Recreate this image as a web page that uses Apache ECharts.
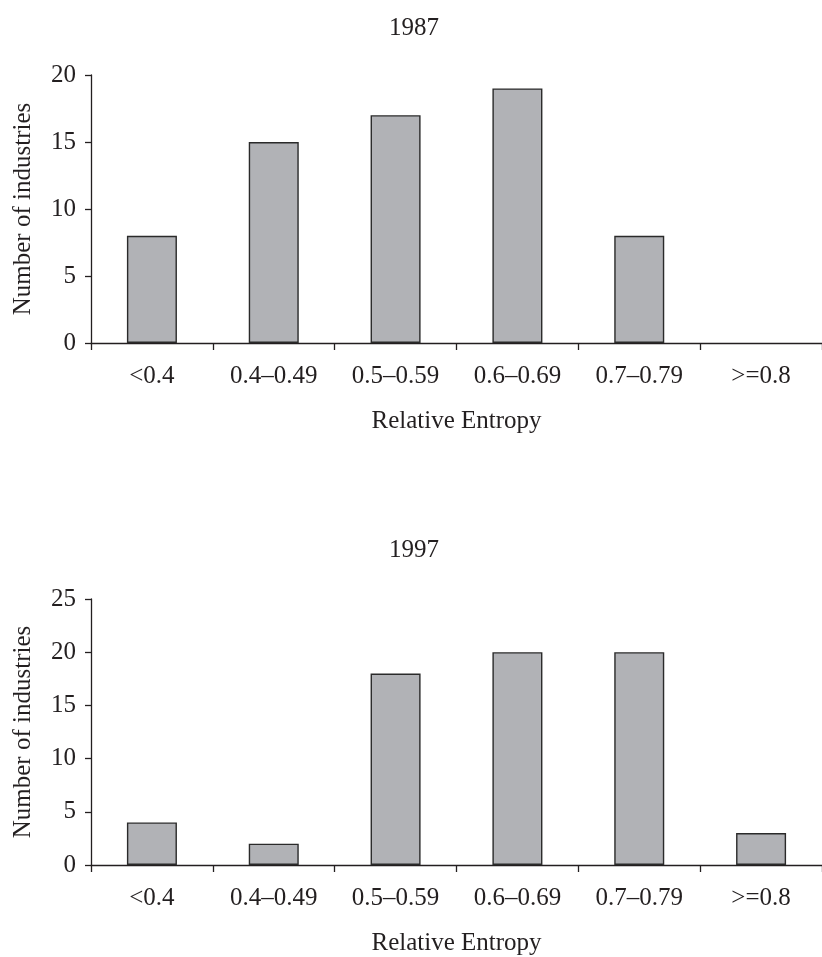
<!DOCTYPE html>
<html>
<head>
<meta charset="utf-8">
<script src="https://cdn.jsdelivr.net/npm/echarts@6/dist/echarts.min.js"></script>
<style>
html,body{margin:0;padding:0;background:#fff;}
#c{width:822px;height:957px;}
</style>
</head>
<body>
<div id="c"></div>
<script>
const categories = ['<0.4', '0.4\u20130.49', '0.5\u20130.59', '0.6\u20130.69', '0.7\u20130.79', '>=0.8'];
const values1987 = [8, 15, 17, 19, 8, 0];
const values1997 = [4, 2, 18, 20, 20, 3];
const yTicks1987 = {min: 0, max: 20, interval: 5};
const yTicks1997 = {min: 0, max: 25, interval: 5};
const titles = ['1987', '1997'];
const xName = 'Relative Entropy';
const yName = 'Number of industries';

const FONT = 'Liberation Serif';
const TXT = '#231f20';
const fs = 25;

function xAxis(gi) {
  return {
    type: 'category', gridIndex: gi, data: categories,
    boundaryGap: true,
    name: xName, nameLocation: 'middle', nameGap: 66,
    nameTextStyle: {fontFamily: FONT, fontSize: fs, color: TXT},
    axisLine: {lineStyle: {color: '#231f20', width: 1.3}},
    axisTick: {show: true, length: 7, alignWithLabel: false, lineStyle: {color: '#231f20', width: 1.3}},
    axisLabel: {interval: 0, margin: 21, fontFamily: FONT, fontSize: fs, color: TXT},
    splitLine: {show: false}
  };
}
function yAxis(gi, t) {
  return {
    type: 'value', gridIndex: gi, min: t.min, max: t.max, interval: t.interval,
    name: yName, nameLocation: 'middle', nameGap: 55, nameRotate: 90,
    nameTextStyle: {fontFamily: FONT, fontSize: fs, color: TXT},
    axisLine: {show: true, lineStyle: {color: '#231f20', width: 1.3}},
    axisTick: {show: true, length: 6, lineStyle: {color: '#231f20', width: 1.3}},
    axisLabel: {margin: 15, fontFamily: FONT, fontSize: fs, color: TXT},
    splitLine: {show: false}
  };
}
const barStyle = {color: '#b1b2b6', borderColor: '#2a2a2a', borderWidth: 1.4};
function barData(vals) {
  return vals.map(v => v === 0 ? {value: v, itemStyle: {borderWidth: 0}} : v);
}

const chart = echarts.init(document.getElementById('c'), null, {renderer: 'canvas'});
chart.setOption({
  animation: false,
  backgroundColor: '#fff',
  title: [
    {text: titles[0], left: 409, top: 11, textAlign: 'center', textStyle: {fontFamily: FONT, fontSize: fs, fontWeight: 'normal', color: TXT}},
    {text: titles[1], left: 409, top: 533, textAlign: 'center', textStyle: {fontFamily: FONT, fontSize: fs, fontWeight: 'normal', color: TXT}}
  ],
  grid: [
    {left: 91, top: 75, width: 734, height: 268, containLabel: false},
    {left: 91, top: 599, width: 734, height: 267, containLabel: false}
  ],
  xAxis: [xAxis(0), xAxis(1)],
  yAxis: [yAxis(0, yTicks1987), yAxis(1, yTicks1997)],
  series: [
    {type: 'bar', xAxisIndex: 0, yAxisIndex: 0, data: barData(values1987), barWidth: 50, itemStyle: barStyle},
    {type: 'bar', xAxisIndex: 1, yAxisIndex: 1, data: barData(values1997), barWidth: 50, itemStyle: barStyle}
  ]
});
</script>
</body>
</html>
